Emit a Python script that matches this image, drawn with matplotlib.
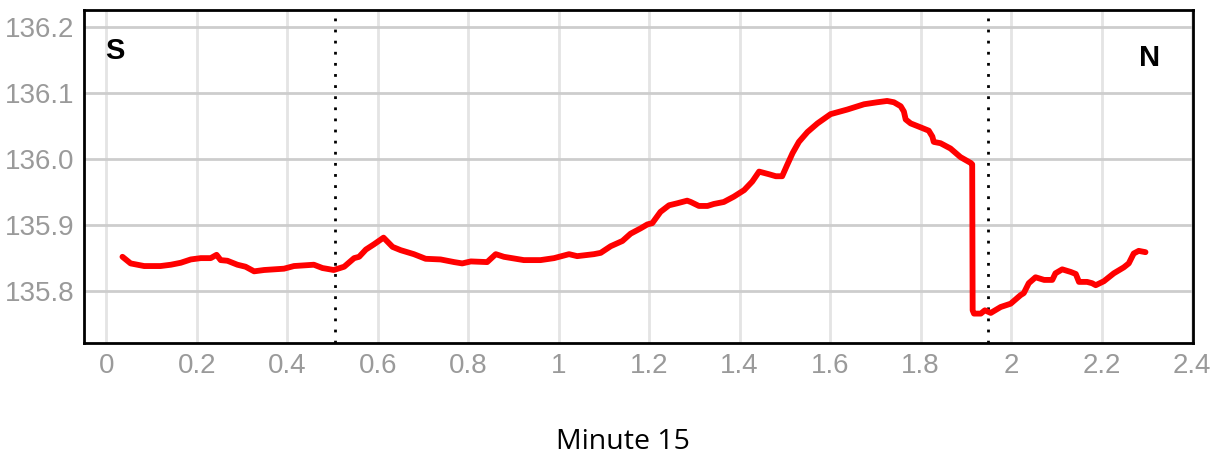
import matplotlib
matplotlib.use('Agg')
from matplotlib import pyplot as plt

# Trace of the red line (minutes vs value)
minutes = [0.036, 0.054, 0.084, 0.120, 0.143, 0.165, 0.187, 0.209, 0.231, 0.244,
           0.253, 0.268, 0.290, 0.308, 0.327, 0.349, 0.371, 0.393, 0.415, 0.459,
           0.478, 0.503, 0.526, 0.548, 0.559, 0.574, 0.592, 0.613, 0.633, 0.651,
           0.680, 0.706, 0.739, 0.769, 0.787, 0.806, 0.842, 0.861, 0.879, 0.923,
           0.960, 0.990, 1.023, 1.041, 1.078, 1.093, 1.115, 1.141, 1.159, 1.181,
           1.196, 1.207, 1.225, 1.244, 1.262, 1.284, 1.292, 1.310, 1.329, 1.343,
           1.365, 1.387, 1.410, 1.428, 1.443, 1.465, 1.480, 1.494, 1.505, 1.517,
           1.531, 1.550, 1.572, 1.601, 1.638, 1.675, 1.704, 1.726, 1.741, 1.756,
           1.763, 1.767, 1.778, 1.800, 1.818, 1.826, 1.829, 1.844, 1.866, 1.888,
           1.911, 1.914, 1.915, 1.918, 1.933, 1.942, 1.955, 1.977, 1.999, 2.021,
           2.028, 2.039, 2.054, 2.073, 2.091, 2.098, 2.113, 2.132, 2.143, 2.150,
           2.168, 2.179, 2.187, 2.205, 2.227, 2.249, 2.260, 2.271, 2.282, 2.297]
values = [135.852, 135.842, 135.838, 135.838, 135.840, 135.843, 135.848, 135.850, 135.850, 135.855,
          135.847, 135.846, 135.840, 135.837, 135.830, 135.832, 135.833, 135.834, 135.838, 135.840,
          135.835, 135.832, 135.837, 135.850, 135.852, 135.863, 135.871, 135.881, 135.867, 135.862,
          135.856, 135.849, 135.848, 135.844, 135.842, 135.845, 135.844, 135.856, 135.852, 135.847,
          135.847, 135.850, 135.856, 135.853, 135.856, 135.858, 135.868, 135.876, 135.887, 135.895,
          135.901, 135.903, 135.920, 135.930, 135.933, 135.937, 135.935, 135.929, 135.929, 135.932,
          135.935, 135.943, 135.953, 135.966, 135.981, 135.977, 135.974, 135.974, 135.991, 136.009,
          136.026, 136.041, 136.054, 136.068, 136.075, 136.083, 136.086, 136.088, 136.086, 136.080,
          136.072, 136.060, 136.054, 136.048, 136.043, 136.034, 136.026, 136.024, 136.016, 136.003,
          135.994, 135.992, 135.771, 135.766, 135.766, 135.771, 135.767, 135.776, 135.781, 135.794,
          135.797, 135.812, 135.821, 135.817, 135.817, 135.827, 135.833, 135.829, 135.826, 135.814,
          135.814, 135.812, 135.809, 135.815, 135.827, 135.836, 135.842, 135.857, 135.861, 135.859]

markers = [0.506, 1.950]
xticks = [0, 0.2, 0.4, 0.6, 0.8, 1, 1.2, 1.4, 1.6, 1.8, 2, 2.2, 2.4]
xtick_labels = ['0', '0.2', '0.4', '0.6', '0.8', '1', '1.2', '1.4', '1.6', '1.8', '2', '2.2', '2.4']
yticks = [135.8, 135.9, 136.0, 136.1, 136.2]
ytick_labels = ['135.8', '135.9', '136.0', '136.1', '136.2']

plt.rcParams['font.family'] = ['Liberation Sans', 'DejaVu Sans']

fig = plt.figure(figsize=(12.14, 4.61), dpi=100)
ax = fig.add_axes([0.0692, 0.256, 0.9135, 0.722])

# grid
for x in xticks:
    ax.axvline(x, color='#e4e4e4', linewidth=2, zorder=0)
for y in yticks:
    ax.axhline(y, color='#cdcdcd', linewidth=2, zorder=0)

for m in markers:
    ax.axvline(m, color='black', linewidth=2, linestyle=(0, (1, 3)), zorder=1)

ax.plot(minutes, values, color='#ff0000', linewidth=4.2, solid_capstyle='round',
        solid_joinstyle='round', zorder=2)

ax.set_xlim(-0.049, 2.402)
ax.set_ylim(135.7215, 136.2255)
ax.set_xticks(xticks)
ax.set_xticklabels(xtick_labels)
ax.set_yticks(yticks)
ax.set_yticklabels(ytick_labels)
ax.tick_params(axis='both', length=0, labelsize=20, labelcolor='#9a9a9a', pad=7)

for s in ax.spines.values():
    s.set_linewidth(2)
    s.set_color('black')

ax.text(0.019, 0.877, 'S', transform=ax.transAxes, fontsize=21, fontweight='bold',
        ha='left', va='center')
ax.text(0.961, 0.855, 'N', transform=ax.transAxes, fontsize=21, fontweight='bold',
        ha='center', va='center')

fig.text(623 / 1214, 0.041, 'Minute 15', fontsize=20.5, family='Open Sans',
         ha='center', va='center')

fig.savefig('out.png', dpi=100)
